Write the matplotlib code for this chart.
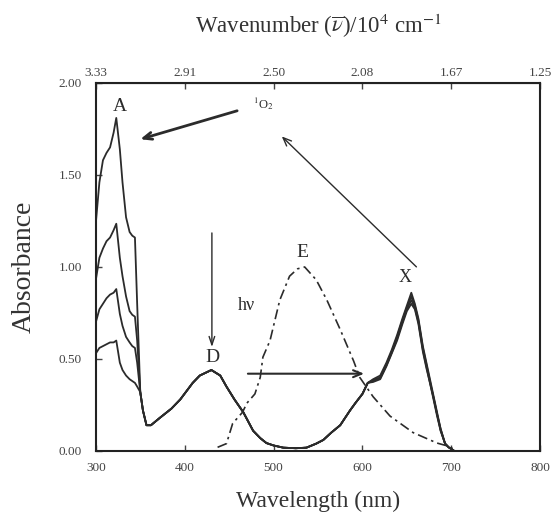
import matplotlib.pyplot as plt
import numpy as np

plt.rcParams['font.family'] = ['Liberation Serif', 'DejaVu Serif']
plt.rcParams['mathtext.fontset'] = 'stix'

# UV part, one list per spectrum (A band, bleaching with irradiation)
uv_nm = [300, 304, 308, 312, 316, 320, 323, 327, 330, 334, 338, 341, 344, 346.5]
abs_1 = [1.24, 1.46, 1.58, 1.62, 1.65, 1.73, 1.81, 1.64, 1.46, 1.27, 1.19, 1.17, 1.16, 0.80]
abs_2 = [0.93, 1.05, 1.10, 1.14, 1.16, 1.20, 1.235, 1.05, 0.95, 0.84, 0.76, 0.74, 0.73, 0.60]
abs_3 = [0.70, 0.77, 0.80, 0.83, 0.85, 0.86, 0.88, 0.745, 0.68, 0.62, 0.59, 0.57, 0.56, 0.48]
abs_4 = [0.53, 0.56, 0.57, 0.58, 0.59, 0.59, 0.60, 0.48, 0.44, 0.41, 0.39, 0.38, 0.37, 0.35]

# common part (D band and valley)
mid_nm = [350, 353, 357, 362, 372, 385, 395, 409, 417, 430, 440, 447, 456, 466, 477,
          485, 492, 500, 511, 525, 537, 548, 556, 565, 575, 586, 592, 600, 606]
mid_abs = [0.32, 0.22, 0.14, 0.14, 0.18, 0.23, 0.28, 0.37, 0.41, 0.44, 0.41, 0.35, 0.28,
           0.21, 0.11, 0.07, 0.043, 0.03, 0.018, 0.015, 0.018, 0.04, 0.06, 0.10, 0.14,
           0.22, 0.26, 0.31, 0.37]

# X band, one list per spectrum
x_nm = [612, 620, 627, 633, 639, 645, 650, 655, 659, 663, 668, 672, 676, 680, 684, 688, 693, 697, 702]
x_1 = [0.39, 0.41, 0.48, 0.55, 0.63, 0.72, 0.79, 0.86, 0.80, 0.72, 0.57, 0.48, 0.39, 0.30, 0.21, 0.12, 0.04, 0.02, 0.005]
x_2 = [0.385, 0.40, 0.47, 0.54, 0.62, 0.71, 0.78, 0.84, 0.79, 0.71, 0.56, 0.47, 0.38, 0.29, 0.20, 0.12, 0.04, 0.02, 0.005]
x_3 = [0.38, 0.395, 0.465, 0.535, 0.61, 0.70, 0.77, 0.82, 0.78, 0.70, 0.55, 0.46, 0.37, 0.29, 0.20, 0.11, 0.04, 0.02, 0.005]
x_4 = [0.375, 0.39, 0.46, 0.53, 0.60, 0.69, 0.76, 0.80, 0.77, 0.69, 0.54, 0.45, 0.37, 0.28, 0.19, 0.11, 0.04, 0.02, 0.005]

# emission spectrum E (dashed)
em_nm = [437, 447, 454, 465, 470, 479, 485, 488, 496, 507, 518, 527, 535, 548, 560,
         575, 590, 597, 612, 631, 657, 684, 699, 702]
em_abs = [0.02, 0.04, 0.15, 0.21, 0.26, 0.31, 0.40, 0.51, 0.60, 0.82, 0.95, 0.99, 1.00,
          0.93, 0.82, 0.66, 0.49, 0.40, 0.295, 0.19, 0.10, 0.043, 0.023, 0.01]

xticks = [300, 400, 500, 600, 700, 800]
top_labels = ["3.33", "2.91", "2.50", "2.08", "1.67", "1.25"]
yticks = [0.0, 0.5, 1.0, 1.5, 2.0]

fig = plt.figure(figsize=(5.54, 5.14), dpi=100)
ax = fig.add_axes([0.173, 0.1226, 0.802, 0.716])

col = '#2b2b2b'
for a_uv, a_x in [(abs_1, x_1), (abs_2, x_2), (abs_3, x_3), (abs_4, x_4)]:
    wl = uv_nm + mid_nm + x_nm
    ab = a_uv + mid_abs + a_x
    ax.plot(wl, ab, color=col, lw=1.3)

ax.plot(em_nm, em_abs, color=col, lw=1.2, dashes=(6, 2.5, 1.5, 2.5))

ax.set_xlim(300, 800)
ax.set_ylim(0, 2)
ax.set_xticks(xticks)
ax.set_yticks(yticks)
ax.set_yticklabels(["%.2f" % v for v in yticks])
ax.tick_params(direction='in', length=4, width=1, labelsize=9.5, colors='#444444')
ax.tick_params(axis='x', pad=8)
ax.tick_params(axis='y', pad=10)
for s in ax.spines.values():
    s.set_linewidth(1.5)
    s.set_color('#222222')

top = ax.secondary_xaxis('top')
top.set_xticks(xticks)
top.set_xticklabels(top_labels)
top.tick_params(direction='in', length=4, width=1, labelsize=9.5, colors='#444444', pad=3)
top.set_xlabel(r"Wavenumber ($\overline{\nu}$)/10$^4$ cm$^{-1}$", fontsize=16.5, labelpad=24, color='#333333')

ax.set_xlabel("Wavelength (nm)", fontsize=17, labelpad=12, color='#333333')
ax.set_ylabel("Absorbance", fontsize=20, labelpad=16, color='#333333')

# labels
ax.text(327, 1.87, "A", fontsize=14, ha='center', va='center', color=col)
ax.text(488, 1.89, r"$^1$O$_2$", fontsize=9, ha='center', va='center', color=col)
ax.text(431, 0.51, "D", fontsize=14, ha='center', va='center', color=col)
ax.text(533, 1.08, "E", fontsize=14, ha='center', va='center', color=col)
ax.text(470, 0.79, "h\u03bd", fontsize=13, ha='center', va='center', color=col)
ax.text(648, 0.945, "X", fontsize=13, ha='center', va='center', color=col)

# arrows
ax.annotate("", xy=(347, 1.69), xytext=(462, 1.853),
            arrowprops=dict(arrowstyle='->,head_length=0.6,head_width=0.25', lw=2, color=col))
ax.annotate("", xy=(507, 1.72), xytext=(663, 0.99),
            arrowprops=dict(arrowstyle='->,head_length=0.6,head_width=0.25', lw=1, color=col))
ax.annotate("", xy=(430.6, 0.55), xytext=(430.6, 1.20),
            arrowprops=dict(arrowstyle='->,head_length=0.6,head_width=0.2', lw=1, color=col))
ax.annotate("", xy=(605, 0.42), xytext=(468, 0.42),
            arrowprops=dict(arrowstyle='->,head_length=0.6,head_width=0.25', lw=1.5, color=col))

fig.savefig("out.png", dpi=100)
